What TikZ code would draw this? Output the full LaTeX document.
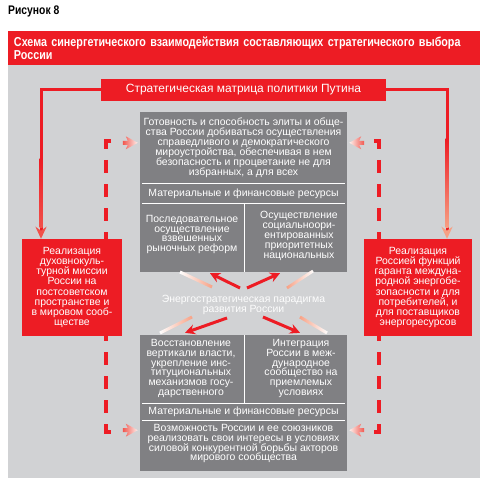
\documentclass[tikz,border=0pt]{standalone}
\usepackage{fontspec}
\setmainfont{Liberation Sans}
\newfontfamily\condfont{Liberation Sans Bold}[FakeStretch=0.83]
\usepackage{tikz}
\usetikzlibrary{positioning, arrows.meta, calc}

\definecolor{schemered}{RGB}{237,28,36}
\definecolor{panelgrey}{RGB}{209,210,212}
\definecolor{boxgrey}{RGB}{128,128,131}
\definecolor{fadered}{RGB}{247,160,132}

\tikzset{
  redbox/.style={fill=schemered, text=white, align=center, inner sep=0pt,
    font=\fontsize{10.5}{10.3}\selectfont},
  greybox/.style={fill=boxgrey, inner sep=0pt},
  boxtext/.style={text=white, align=center, inner sep=0pt,
    font=\fontsize{10.5}{10}\selectfont},
  divider/.style={white, line width=0.9bp},
  redline/.style={schemered, line width=3bp},
  dashline/.style={schemered, line width=3.7bp, dash pattern=on 13bp off 11bp},
  redarrow/.style={schemered, line width=3bp, -{Stealth[length=10bp,width=10bp]}},
}

% faded arrowhead: #1 tip, #2 direction (1 right, -1 left), #3 left colour, #4 right colour
\newcommand{\fadetip}[4]{%
  \begin{scope}[shift={(#1)}, xscale=#2]
    \shade[left color=#3, right color=#4]
      (-15,-2) -- (-10,-2) -- (-12,-6.5) -- (0,0) -- (-12,6.5) -- (-10,2) -- (-15,2) -- cycle;
  \end{scope}}

\begin{document}
\begin{tikzpicture}[x=1bp, y=-1bp]
    \useasboundingbox (0,0) rectangle (488,483);

    % heading
    \node[anchor=base west, inner sep=0pt, font=\condfont\fontsize{12.5}{12}\selectfont] (fignum) at (8,15) {Рисунок 8};
    \node[fill=schemered, text=white, minimum width=472bp, minimum height=34bp,
          text width=460bp, align=left, inner sep=0pt,
          font=\condfont\fontsize{13}{10.5}\selectfont] (title) at (244,48)
          {Схема синергетического взаимодействия составляющих стратегического выбора\\России};
    \node[fill=panelgrey, minimum width=472bp, minimum height=413bp, inner sep=0pt] (panel) at (244,271.5) {};

    % dashed frames
    \draw[dashline] (111,141) -- (106,141) -- (106,432) -- (111,432);
    \draw[dashline] (374,141) -- (379,141) -- (379,432) -- (374,432);

    % top
    \node[redbox, minimum width=285bp, minimum height=22bp, font=\fontsize{12}{12}\selectfont] (matrix) at (243.5,90)
          {Стратегическая матрица политики Путина};

    % side boxes
    \node[redbox, minimum width=100bp, minimum height=97bp] (mission) at (72,287.5)
          {Реализация\\духовнокуль-\\турной миссии\\России на\\постсоветском\\пространстве и\\в мировом сооб-\\ществе};
    \node[redbox, minimum width=108bp, minimum height=97bp] (energy) at (418,287.5)
          {Реализация\\Россией функций\\гаранта междуна-\\родной энергобе-\\зопасности и для\\потребителей, и\\для поставщиков\\энергоресурсов};

    \coordinate (leftx) at (41,0);
    \coordinate (rightx) at (447,0);
    \draw[redline, -{Stealth[length=12bp,width=11bp,color=schemered!60!fadered]}] (matrix.west) -| (leftx |- mission.north);
    \draw[redline, -{Stealth[length=12bp,width=11bp,color=fadered]}] (matrix.east) -| (rightx |- energy.north);
    \shade[top color=schemered, bottom color=schemered!60!fadered] ($(leftx |- mission.north)+(-1.5,-80)$) rectangle ($(leftx |- mission.north)+(1.5,-11)$);
    \shade[top color=schemered, bottom color=fadered] ($(rightx |- energy.north)+(-1.5,-100)$) rectangle ($(rightx |- energy.north)+(1.5,-11)$);

    % upper block
    \node[greybox, minimum width=207bp, minimum height=160bp] (upper) at (243.5,192) {};
    \draw[divider] (142,183) -- (345,183);
    \draw[divider] (142,203) -- (345,203);
    \draw[divider] (244,203) -- (244,272);
    \node[boxtext] (readiness) at (243.5,148) {Готовность и способность элиты и обще-\\ства России добиваться осуществления\\справедливого и демократического\\мироустройства, обеспечивая в нем\\безопасность и процветание не для\\избранных, а для всех};
    \node[boxtext] (resources1) at (243.5,193.5) {Материальные и финансовые ресурсы};
    \node[boxtext] (reforms) at (192,234.5) {Последовательное\\осуществление\\взвешенных\\рыночных реформ};
    \node[boxtext] (social) at (299,235.5) {Осуществление\\социальноори-\\ентированных\\приоритетных\\национальных};

    % lower block
    \node[greybox, minimum width=207bp, minimum height=136bp] (lower) at (243.5,403) {};
    \draw[divider] (142,403) -- (345,403);
    \draw[divider] (142,420) -- (345,420);
    \draw[divider] (244,335) -- (244,403);
    \node[boxtext] (vertical) at (191,368.5) {Восстановление\\вертикали власти,\\укрепление инс-\\титуциональных\\механизмов госу-\\дарственного};
    \node[boxtext] (integration) at (301,368.5) {Интеграция\\России в меж-\\дународное\\сообщество на\\приемлемых\\условиях};
    \node[boxtext] (resources2) at (243.5,411.5) {Материальные и финансовые ресурсы};
    \node[boxtext] (ability) at (243.5,443.5) {Возможность России и ее союзников\\реализовать свои интересы в условиях\\силовой конкурентной борьбы акторов\\мирового сообщества};

    % centre
    \node[boxtext, text=white!96!panelgrey] (paradigm) at (243.5,304.5) {Энергостратегическая парадигма\\развития России};
    \shade[left color=white, right color=fadered] (180.6,270.6) -- (212.6,285.6) -- (211.4,288.4) -- (179.4,273.4) -- cycle;
    \shade[left color=fadered, right color=white] (312.2,269.8) -- (286.2,286.8) -- (287.8,289.2) -- (313.8,272.2) -- cycle;
    \shade[left color=white, right color=fadered] (159.3,331.7) -- (191.3,315.7) -- (192.7,318.3) -- (160.7,334.3) -- cycle;
    \shade[left color=fadered, right color=white] (300.8,315.7) -- (327.8,331.7) -- (326.2,334.3) -- (299.2,318.3) -- cycle;
    \draw[redarrow] ($(paradigm)+(-3.5,-16.5)$) -- ($(upper.south)+(-33.5,1)$);
    \draw[redarrow] ($(paradigm)+(3.5,-16.5)$) -- ($(upper.south)+(36.5,1)$);
    \draw[redarrow] ($(paradigm)+(-16.5,13.5)$) -- ($(lower.north)+(-58.5,-2)$);
    \draw[redarrow] ($(paradigm)+(19.5,12.5)$) -- ($(lower.north)+(56.5,-2)$);

    % faded tips
    \fadetip{$(upper.north west)+(-2,31)$}{1}{fadered!45!schemered}{white!85!fadered}
    \fadetip{$(lower.south west)+(-2,-41)$}{1}{fadered!45!schemered}{white!85!fadered}
    \fadetip{$(upper.north east)+(2,31)$}{-1}{white!85!fadered}{fadered!45!schemered}
    \fadetip{$(lower.south east)+(2,-41)$}{-1}{white!85!fadered}{fadered!45!schemered}
\end{tikzpicture}
\end{document}
